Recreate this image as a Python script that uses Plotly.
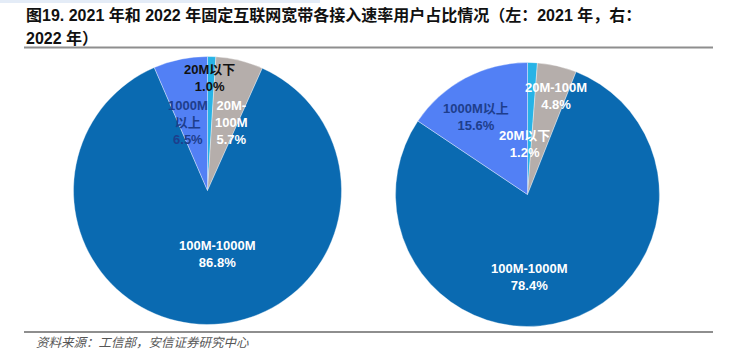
import plotly.graph_objects as go

W, H = 737, 354

categories = ["20M以下", "20M-100M", "100M-1000M", "1000M以上"]
values_2021 = [1.0, 5.7, 86.8, 6.5]
values_2022 = [1.2, 4.8, 78.4, 15.6]
colors = ["#27B3E6", "#B5AEAB", "#0A6AB1", "#5280F5"]

label_2021 = ["20M以下<br>1.0%", "20M-<br>100M<br>5.7%", "100M-1000M<br>86.8%", "1000M<br>以上<br>6.5%"]
label_2022 = ["20M以下<br>1.2%", "20M-100M<br>4.8%", "100M-1000M<br>78.4%", "1000M以上<br>15.6%"]

title_lines = ["图19. 2021 年和 2022 年固定互联网宽带各接入速率用户占比情况（左：2021 年，右：", "2022 年）"]
source = "资料来源：工信部，安信证券研究中心"

# layout constants (pixels)
pie_left = dict(cx=207.5, cy=190.5, r=134)
pie_right = dict(cx=527.5, cy=194.5, r=132)
pos_2021 = [(210, 78), (231, 122), (217, 254), (188, 122)]
pos_2022 = [(524, 144), (556, 96), (529, 277), (476, 117)]
col_2021 = ["#111111", "white", "white", "#1E3E8C"]
col_2022 = ["white", "white", "white", "#1E3E8C"]
title_y = [15, 38.5]


def dom(p):
    return dict(x=[(p["cx"] - p["r"]) / W, (p["cx"] + p["r"]) / W],
                y=[1 - (p["cy"] + p["r"]) / H, 1 - (p["cy"] - p["r"]) / H])


fig = go.Figure()
for vals, p in [(values_2021, pie_left), (values_2022, pie_right)]:
    fig.add_trace(go.Pie(
        labels=categories, values=vals, sort=False, direction="clockwise",
        rotation=0, domain=dom(p), textinfo="none", showlegend=False,
        marker=dict(colors=colors, line=dict(color="rgba(255,255,255,0.6)", width=0.6)),
    ))

font_lbl = "Liberation Sans, Arial, Noto Sans CJK SC, sans-serif"
ann = []
for labs, poss, cols in [(label_2021, pos_2021, col_2021), (label_2022, pos_2022, col_2022)]:
    for t, (px, py), c in zip(labs, poss, cols):
        ann.append(dict(text="<b>" + t + "</b>", x=px / W, y=1 - py / H, xref="paper", yref="paper",
                        xanchor="center", yanchor="middle", showarrow=False,
                        font=dict(size=13, color=c, family=font_lbl)))

for t, py in zip(title_lines, title_y):
    ann.append(dict(text="<b>" + t + "</b>", x=24 / W, y=1 - py / H, xref="paper", yref="paper",
                    xanchor="left", yanchor="middle", align="left", showarrow=False,
                    font=dict(size=16, color="#111111",
                              family="Liberation Sans, Noto Sans CJK SC, sans-serif")))
ann.append(dict(text="<i>" + source + "</i>", x=34 / W, y=1 - 341 / H, xref="paper", yref="paper",
                xanchor="left", yanchor="middle", showarrow=False,
                font=dict(size=12.5, color="#555555", family="Noto Sans CJK SC, sans-serif")))

shapes = [
    dict(type="rect", xref="paper", yref="paper", x0=0, x1=320 / W, y0=1 - 3 / H, y1=1,
         fillcolor="#E4ECF7", line=dict(width=0), layer="below"),
    dict(type="line", xref="paper", yref="paper", x0=24 / W, x1=713 / W, y0=1 - 47.5 / H, y1=1 - 47.5 / H,
         line=dict(color="#8E8E8E", width=2)),
    dict(type="line", xref="paper", yref="paper", x0=24 / W, x1=713 / W, y0=1 - 332 / H, y1=1 - 332 / H,
         line=dict(color="#8E8E8E", width=2)),
]

fig.update_layout(width=W, height=H, margin=dict(l=0, r=0, t=0, b=0),
                  paper_bgcolor="white", plot_bgcolor="white",
                  annotations=ann, shapes=shapes)
fig.write_html("out.html")
